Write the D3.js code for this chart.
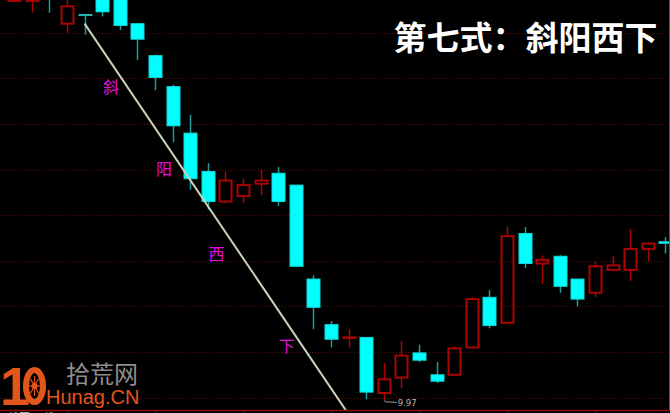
<!DOCTYPE html>
<html>
<head>
<meta charset="utf-8">
<script src="https://cdn.jsdelivr.net/npm/d3@7/dist/d3.min.js"></script>
<style>
html,body{margin:0;padding:0;background:#000;}
svg{display:block;}
</style>
</head>
<body>
<svg id="chart" width="670" height="413"></svg>
<script>
// ---- data ----
const candleIndex = d3.range(38);
const openVals  = [14.35,14.35,14.60,14.10,14.20,14.45,14.40,14.10,13.75,13.41,12.90,12.48,12.15,12.21,12.345,12.46,12.33,11.30,10.80,10.655,10.66,10.05,10.22,10.49,10.25,10.25,10.55,11.10,10.82,11.80,11.47,11.55,11.30,11.15,11.40,11.40,11.63,11.71];
const highVals  = [14.70,14.50,14.70,14.38,14.20,14.50,14.42,14.10,13.76,13.43,13.10,12.57,12.48,12.40,12.50,12.53,12.33,11.34,10.84,10.75,10.66,10.38,10.62,10.58,10.39,10.56,11.10,11.18,11.88,11.87,11.56,11.56,11.30,11.49,11.55,11.85,11.69,11.76];
const lowVals   = [14.35,14.22,14.22,14.00,13.98,14.18,14.03,13.70,13.37,12.80,12.28,12.06,12.13,12.13,12.22,12.10,11.43,10.75,10.55,10.55,9.98,9.97,10.10,10.39,10.16,10.25,10.55,10.76,10.82,11.42,11.25,11.15,11.00,11.10,11.40,11.28,11.50,11.58];
const closeVals = [14.60,14.37,14.40,14.29,14.19,14.23,14.08,13.93,13.51,12.98,12.40,12.15,12.38,12.33,12.38,12.15,11.44,10.99,10.64,10.66,10.06,10.20,10.46,10.41,10.18,10.54,11.08,10.79,11.77,11.47,11.51,11.22,11.08,11.44,11.45,11.63,11.69,11.69];
const gridPrices = [10.0,10.5,11.0,11.5,12.0,12.5,13.0,13.5,14.0];
const tickIndex = [3,8,13,18,23,28,33];
const tickLabels = {13:"11", 33:"12"};
const trendIndex = [4, 18.85];
const trendPrice = [14.10, 9.86];
const noteTexts = ["斜","阳","西","下"];
const noteIndex = [5.5, 8.52, 11.5, 15.49];
const notePrice = [13.42, 12.52, 11.59, 10.58];
const lowMarkIndex = 21, lowMarkPrice = 9.97;
const titleText = "第七式：斜阳西下";

// ---- chart ----
const W = 670, H = 413, plotBottom = 410;
const svg = d3.select("#chart");
svg.append("rect").attr("width",W).attr("height",H).attr("fill","#000");

const x = d3.scaleLinear().domain([0, candleIndex.length-1]).range([14.2, 665.3]);
const y = d3.scaleLinear().domain([10, 14]).range([397.6, 32.8]);

svg.append("defs").append("clipPath").attr("id","plot")
  .append("rect").attr("x",0).attr("y",0).attr("width",669).attr("height",plotBottom);

// grid
svg.append("g").selectAll("line").data(gridPrices).join("line")
  .attr("x1",0).attr("x2",668)
  .attr("y1",d=>Math.round(y(d))+0.5).attr("y2",d=>Math.round(y(d))+0.5)
  .attr("stroke","#6e0606").attr("stroke-width",1).attr("stroke-dasharray","1,2");

// right border
svg.append("line").attr("x1",669.5).attr("x2",669.5).attr("y1",0).attr("y2",plotBottom)
  .attr("stroke","#555").attr("stroke-width",1);

const data = candleIndex.map(i=>({i, o:openVals[i], h:highVals[i], l:lowVals[i], c:closeVals[i]}));
const bw = 14;
const g = svg.append("g").attr("clip-path","url(#plot)");

data.forEach(d=>{
  const cx = Math.round(x(d.i)) + 0.5;
  const up = d.c >= d.o;
  const top = y(Math.max(d.o,d.c)), bot = y(Math.min(d.o,d.c));
  if (up) {
    const col = "#a80404";
    g.append("line").attr("x1",cx).attr("x2",cx).attr("y1",y(d.h)).attr("y2",top)
      .attr("stroke",col).attr("stroke-width",1.5);
    g.append("line").attr("x1",cx).attr("x2",cx).attr("y1",bot).attr("y2",y(d.l))
      .attr("stroke",col).attr("stroke-width",1.5);
    g.append("rect").attr("x",cx-bw/2+1).attr("y",top)
      .attr("width",bw-2).attr("height",Math.max(bot-top,0.5))
      .attr("fill","none").attr("stroke",col).attr("stroke-width",2);
  } else {
    g.append("line").attr("x1",cx).attr("x2",cx).attr("y1",y(d.h)).attr("y2",y(d.l))
      .attr("stroke","#1f9c9c").attr("stroke-width",1.5);
    g.append("rect").attr("x",cx-bw/2+0.5).attr("y",top)
      .attr("width",bw-1).attr("height",Math.max(bot-top,1))
      .attr("fill","#00ffff").attr("stroke", (bot-top)<3 ? "#22b8b8" : "#10d8d8").attr("stroke-width",1);
  }
});

// trend line
g.append("line")
  .attr("x1",x(trendIndex[0])).attr("y1",y(trendPrice[0]))
  .attr("x2",x(trendIndex[1])).attr("y2",y(trendPrice[1]))
  .attr("stroke","#c4d4b4").attr("stroke-width",2);

// annotations
svg.append("g").selectAll("text").data(noteTexts).join("text")
  .attr("x",(d,k)=>x(noteIndex[k])).attr("y",(d,k)=>y(notePrice[k]))
  .attr("text-anchor","middle").attr("dominant-baseline","central")
  .attr("font-family","'Noto Sans CJK SC'").attr("font-size",16)
  .attr("fill","#e010e0").text(d=>d);

// low price mark
const lx = x(lowMarkIndex), ly = y(lowMarkPrice);
svg.append("path").attr("d",`M${lx},${ly} L${lx+2},${ly+1.5} L${lx+13},${ly+2}`)
  .attr("fill","none").attr("stroke","#a0a0a0").attr("stroke-width",1);
svg.append("text").attr("x",lx+14).attr("y",ly+6)
  .attr("font-family","'DejaVu Sans'").attr("font-size",8.5).attr("fill","#b4b4b4")
  .text(lowMarkPrice.toFixed(2));

// bottom axis
const axis = d3.axisBottom(x).tickValues(tickIndex).tickSize(3).tickFormat("");
const ax = svg.append("g").attr("transform",`translate(0,${plotBottom})`).call(axis);
ax.select(".domain").remove();
ax.selectAll(".tick line").attr("stroke","#8b1010");
svg.append("line").attr("x1",0).attr("x2",W).attr("y1",plotBottom+0.5).attr("y2",plotBottom+0.5)
  .attr("stroke","#8b0a0a").attr("stroke-width",1.5);
svg.append("g").selectAll("text").data(Object.keys(tickLabels)).join("text")
  .attr("x",d=>x(+d)+1).attr("y",423)
  .attr("font-family","'DejaVu Sans'").attr("font-size",12).attr("fill","#20c0c0")
  .text(d=>tickLabels[d]);
svg.append("text").attr("x",1).attr("y",422)
  .attr("font-family","'Noto Sans CJK SC'").attr("font-size",11).attr("fill","#c8c8c8")
  .text("K线图 日线");

// title
svg.append("text").attr("x",657.5).attr("y",50)
  .attr("text-anchor","end").attr("font-family","'Noto Sans CJK SC'")
  .attr("font-weight","bold").attr("font-size",33).attr("fill","#ffffff")
  .text(titleText);

// logo
const logo = svg.append("g");
logo.append("text").attr("x",0).attr("y",405).attr("font-family","'Liberation Sans'")
  .attr("font-weight","bold").attr("font-size",54).attr("fill","#e2561c").text("1");
logo.append("ellipse").attr("cx",34.5).attr("cy",386).attr("rx",8.5).attr("ry",16)
  .attr("fill","none").attr("stroke","#e2561c").attr("stroke-width",6);
logo.append("circle").attr("cx",34.5).attr("cy",386).attr("r",3).attr("fill","#e2561c");
d3.range(8).forEach(k=>{
  const a = k*Math.PI/4;
  logo.append("line").attr("x1",34.5).attr("y1",386)
    .attr("x2",34.5+5.5*Math.cos(a)).attr("y2",386+10*Math.sin(a))
    .attr("stroke","#e2561c").attr("stroke-width",1.2);
});
logo.append("text").attr("x",66).attr("y",383).attr("font-family","'Noto Sans CJK SC'")
  .attr("font-size",24).attr("fill","#8e8e8e").text("拾荒网");
logo.append("text").attr("x",46).attr("y",404).attr("font-family","'Liberation Sans'")
  .attr("font-size",20).attr("fill","#e2561c").text("Hunag.CN");
</script>
</body>
</html>
